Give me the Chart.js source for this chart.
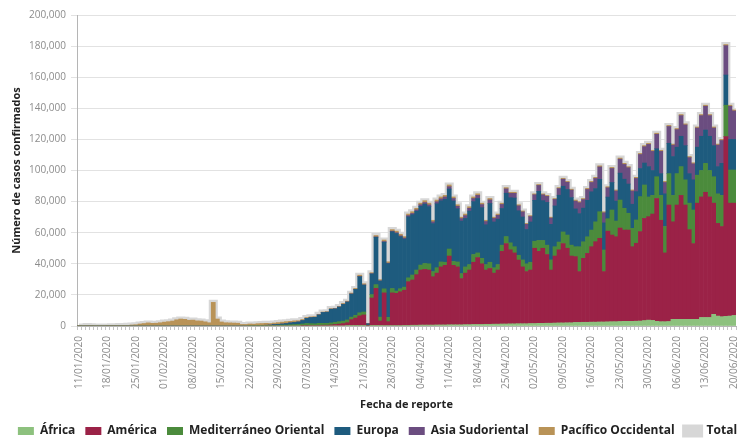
<!DOCTYPE html>
<html lang="es">
<head>
<meta charset="utf-8">
<title>Casos confirmados por región</title>
<script src="https://cdn.jsdelivr.net/npm/chart.js@4/dist/chart.umd.min.js"></script>
<style>
  html, body { margin: 0; padding: 0; background: #fff; }
  #chart-wrap { width: 752px; height: 438px; }
</style>
</head>
<body>
<div id="chart-wrap"><canvas id="cases-by-region" width="752" height="438"></canvas></div>
<script>
// daily confirmed cases by WHO region, 11/01/2020 .. 20/06/2020
const africa = [
  0, 0, 0, 0, 0, 0, 0, 0, 0, 0,
  0, 0, 0, 0, 0, 0, 0, 0, 0, 0,
  0, 0, 0, 0, 0, 0, 0, 0, 0, 0,
  0, 0, 0, 0, 0, 0, 0, 0, 0, 0,
  0, 0, 0, 0, 0, 0, 0, 0, 0, 0,
  0, 0, 0, 0, 0, 0, 0, 0, 0, 0,
  0, 0, 0, 0, 0, 0, 100, 100, 100, 100,
  100, 0, 200, 200, 200, 300, 300, 300, 300, 300,
  400, 400, 500, 500, 600, 600, 600, 600, 700, 700,
  700, 800, 800, 800, 800, 900, 900, 1000, 1000, 1000,
  1100, 1100, 1200, 1200, 1300, 1300, 1400, 1400, 1500, 1500,
  1500, 1600, 1600, 1700, 1700, 1800, 1800, 1900, 2000, 2000,
  2100, 2100, 2300, 2300, 2400, 2400, 2500, 2500, 2600, 2600,
  2700, 2800, 2800, 2900, 3000, 3000, 3000, 3100, 3200, 3500,
  3800, 3600, 3000, 2800, 2800, 2900, 4300, 4300, 4300, 4300,
  4300, 4300, 4300, 5500, 5500, 5500, 7500, 6400, 6000, 6200,
  6400, 6800
];
const america = [
  0, 0, 0, 0, 0, 0, 0, 0, 0, 0,
  0, 0, 0, 0, 0, 0, 0, 0, 0, 0,
  0, 0, 0, 0, 0, 0, 0, 0, 0, 0,
  0, 0, 0, 0, 0, 0, 0, 0, 0, 0,
  0, 0, 0, 0, 0, 0, 0, 0, 0, 0,
  0, 0, 0, 0, 0, 100, 200, 300, 300, 400,
  500, 500, 700, 1000, 1200, 1600, 2000, 4000, 5000, 6400,
  7000, 200, 17800, 24000, 3000, 21000, 2500, 21000, 20700, 21700,
  22600, 28100, 29100, 32500, 35400, 35800, 35400, 31100, 33300, 37300,
  38300, 44200, 38200, 37200, 29700, 33100, 35100, 40000, 43000, 39000,
  34900, 35900, 32800, 34800, 46700, 51700, 47600, 45600, 40900, 36500,
  33500, 34400, 48400, 46300, 48300, 44200, 34200, 43100, 47000, 51000,
  47900, 42900, 42300, 32700, 41100, 44300, 48500, 51700, 53800, 32400,
  58300, 55700, 54600, 60100, 58700, 58700, 48000, 50100, 57500, 65700,
  66500, 68400, 79000, 65200, 44200, 74900, 62700, 73500, 79700, 73500,
  57700, 48700, 74700, 77500, 80500, 77500, 71500, 59600, 58000, 115600,
  72600, 72200
];
const mediterranean = [
  0, 0, 0, 0, 0, 0, 0, 0, 0, 0,
  0, 0, 0, 0, 0, 0, 0, 0, 0, 0,
  0, 0, 0, 0, 0, 0, 0, 0, 0, 0,
  0, 0, 0, 0, 0, 0, 0, 0, 0, 0,
  0, 0, 100, 100, 100, 200, 200, 200, 400, 500,
  600, 600, 800, 900, 1000, 1200, 1400, 1200, 1100, 1300,
  1200, 1200, 1300, 1400, 1600, 1500, 1800, 1600, 1800, 2000,
  1900, 300, 2200, 2400, 2500, 2600, 2800, 2800, 1500, 2000,
  2000, 2500, 3200, 3000, 3200, 3800, 4000, 3300, 3500, 3200,
  2000, 4500, 2500, 3200, 3200, 4000, 3500, 5000, 3000, 3500,
  3500, 4000, 3500, 3500, 4000, 4500, 4500, 4000, 3100, 4500,
  5000, 5000, 4500, 7000, 5000, 6000, 6500, 6000, 5000, 7500,
  8500, 7000, 6400, 16000, 10700, 10700, 10700, 12800, 17100, 13900,
  8000, 16100, 10100, 18000, 14000, 10800, 11800, 15000, 22500, 21500,
  12700, 12000, 14000, 16000, 17000, 20200, 17000, 20200, 18500, 16200,
  17000, 21600, 18000, 17000, 18600, 17000, 17000, 19000, 20000, 20200,
  21300, 21300
];
const europe = [
  0, 0, 0, 0, 0, 0, 0, 0, 0, 0,
  0, 0, 0, 0, 0, 0, 0, 0, 0, 0,
  0, 0, 0, 0, 0, 0, 0, 0, 0, 0,
  0, 0, 0, 0, 0, 0, 0, 0, 0, 0,
  0, 0, 100, 100, 200, 200, 300, 400, 500, 600,
  700, 1000, 1200, 1400, 1600, 2200, 3300, 3900, 4200, 5400,
  7000, 7200, 8800, 8600, 9400, 10800, 11500, 14800, 16600, 23200,
  17300, 900, 13300, 30500, 23200, 30000, 34500, 36500, 37000, 33400,
  30900, 39200, 38800, 37800, 37800, 38200, 36800, 30900, 41100, 39300,
  40500, 38600, 38900, 34200, 33800, 31200, 34400, 34000, 35000, 32600,
  25600, 37800, 29400, 29200, 23600, 27900, 29000, 31300, 28600, 27600,
  22100, 25900, 26300, 31600, 25600, 27500, 22900, 26200, 30100, 29400,
  29300, 30600, 24300, 21300, 21600, 23400, 24600, 21400, 20800, 17400,
  13900, 17700, 12800, 17300, 18700, 18800, 15500, 18200, 18100, 14100,
  19500, 16000, 18000, 14000, 21000, 19500, 25000, 17000, 19500, 22000,
  19000, 19400, 18000, 22000, 21400, 22000, 20000, 17500, 20600, 19400,
  19700, 19700
];
const seAsia = [
  0, 0, 0, 0, 0, 0, 0, 0, 0, 0,
  0, 0, 0, 0, 0, 0, 0, 0, 0, 0,
  0, 0, 0, 0, 0, 0, 0, 0, 0, 0,
  0, 0, 0, 0, 0, 0, 0, 0, 0, 0,
  0, 0, 0, 0, 0, 0, 0, 0, 0, 0,
  0, 0, 0, 0, 0, 0, 0, 0, 0, 0,
  0, 0, 0, 0, 0, 100, 100, 100, 100, 100,
  100, 0, 100, 200, 100, 400, 300, 400, 500, 600,
  700, 800, 800, 900, 1000, 1000, 1100, 1100, 1300, 1300,
  1500, 1500, 1600, 1600, 1600, 1800, 1800, 2000, 2000, 2000,
  2100, 2300, 2300, 2500, 2600, 2800, 2800, 3000, 3200, 3300,
  3300, 3500, 3600, 3800, 3800, 3900, 4000, 4200, 4300, 4500,
  4600, 4800, 5000, 7000, 5500, 7000, 6000, 6500, 8000, 6500,
  6000, 9000, 6500, 9000, 9500, 10500, 8500, 8500, 9000, 10500,
  14300, 12300, 9300, 14300, 7300, 10800, 7300, 11300, 13300, 13300,
  10300, 10300, 12300, 13300, 15300, 13300, 11300, 13800, 14700, 18900,
  21300, 18300
];
const westPacific = [
  41, 0, 300, 200, 0, 0, 0, 50, 100, 150,
  300, 250, 450, 650, 800, 1300, 1600, 2000, 1700, 1800,
  2100, 2500, 2800, 3200, 4000, 4500, 4300, 3700, 3800, 3300,
  3200, 2700, 2100, 15200, 4500, 2600, 2100, 2000, 1900, 1800,
  1000, 1000, 1100, 1000, 1200, 1200, 1200, 1000, 1000, 1100,
  1200, 1200, 1000, 1000, 800, 700, 600, 500, 400, 400,
  300, 300, 400, 400, 400, 500, 500, 600, 600, 900,
  800, 300, 700, 900, 800, 1000, 900, 1000, 1000, 1000,
  900, 1000, 1100, 1000, 1000, 1200, 1100, 1000, 1100, 1200,
  1000, 1100, 1000, 1000, 900, 1000, 1000, 1000, 1000, 900,
  800, 900, 800, 800, 800, 800, 700, 700, 700, 600,
  600, 600, 600, 600, 600, 600, 600, 600, 600, 600,
  600, 600, 700, 700, 700, 700, 700, 700, 700, 700,
  700, 700, 700, 700, 700, 700, 700, 700, 700, 700,
  700, 700, 700, 700, 700, 700, 700, 700, 700, 700,
  700, 700, 700, 700, 700, 700, 700, 700, 700, 700,
  700, 700
];
const total = [
  41, 0, 300, 200, 0, 0, 0, 50, 100, 150,
  300, 250, 450, 650, 800, 1300, 1600, 2000, 1700, 1800,
  2100, 2500, 2800, 3200, 4000, 4500, 4300, 3700, 3800, 3300,
  3200, 2700, 2100, 15200, 4500, 2600, 2100, 2000, 1900, 1800,
  1000, 1000, 1300, 1200, 1500, 1600, 1700, 1600, 1900, 2200,
  2500, 2800, 3000, 3300, 3400, 4200, 5500, 5900, 6000, 7500,
  9000, 9200, 11200, 11400, 12600, 14500, 15900, 21100, 24100, 32600,
  27100, 1700, 34200, 58200, 29700, 55300, 41300, 62000, 61000, 59000,
  57500, 72000, 73500, 75700, 79000, 80600, 79000, 68000, 81000, 83000,
  84000, 90700, 83000, 78000, 70000, 72000, 76700, 83000, 85000, 79000,
  68000, 82000, 70000, 72000, 79000, 89000, 86000, 86000, 78000, 74000,
  66000, 71000, 85000, 91000, 85000, 84000, 70000, 82000, 89000, 95000,
  93000, 88000, 81000, 80000, 82000, 88500, 93000, 95600, 103000, 73500,
  89600, 102000, 87500, 108000, 104600, 102500, 87500, 95600, 111000, 116000,
  117500, 113000, 124000, 113000, 93000, 129000, 117000, 127000, 136000, 130000,
  109000, 105000, 128000, 136000, 142000, 136000, 128000, 117000, 120000, 181000,
  142000, 139000
];

// one category per reporting day, starting 11/01/2020
const reportDays = africa.map((_, i) => {
  const d = new Date(2020, 0, 11 + i);
  const dd = String(d.getDate()).padStart(2, '0');
  const mm = String(d.getMonth() + 1).padStart(2, '0');
  return `${dd}/${mm}/${d.getFullYear()}`;
});

const FONT = "'Open Sans', 'DejaVu Sans', sans-serif";

const regionBar = (label, data, color) => ({
  type: 'bar',
  label,
  data,
  stack: 'regions',
  backgroundColor: color,
  borderWidth: 0,
  barPercentage: 1,
  categoryPercentage: 1,
});

// push the legend down to the bottom edge (and a touch right) like the original
const legendToBottom = {
  id: 'legendToBottom',
  afterLayout(chart) {
    const legend = chart.legend;
    if (legend) {
      legend.top += 9;
      legend.bottom += 9;
      legend.left += 5;
      legend.right += 5;
    }
  },
};

const casesChart = new Chart(document.getElementById('cases-by-region'), {
  data: {
    labels: reportDays,
    datasets: [
      regionBar('África', africa, '#8dc17e'),
      regionBar('América', america, '#9b2247'),
      regionBar('Mediterráneo Oriental', mediterranean, '#4b8b3c'),
      regionBar('Europa', europe, '#1e5b7e'),
      regionBar('Asia Sudoriental', seAsia, '#6b4d80'),
      regionBar('Pacífico Occidental', westPacific, '#b99357'),
      {
        type: 'line',
        label: 'Total',
        data: total,
        stack: 'total',
        order: 1,
        borderColor: '#d7d7d7',
        backgroundColor: '#d7d7d7',
        borderWidth: 5,
        pointRadius: 0,
        stepped: 'middle',
        fill: false,
      },
    ],
  },
  options: {
    responsive: false,
    animation: false,
    layout: { padding: { top: 15, right: 7, left: 0, bottom: 0 } },
    scales: {
      x: {
        stacked: true,
        grid: { display: true, drawOnChartArea: false, tickLength: 4, color: '#c4c4c4' },
        border: { color: '#b5b5b5' },
        ticks: {
          autoSkip: false,
          minRotation: 90,
          maxRotation: 90,
          padding: 6,
          color: '#8c8c8c',
          font: { size: 10, family: FONT },
          callback: (value, index) => (index % 7 === 0 ? reportDays[index] : ''),
        },
        title: {
          display: true,
          text: 'Fecha de reporte',
          color: '#222',
          font: { size: 11, weight: 'bold', family: FONT },
          padding: { top: 0, bottom: -5 },
        },
        afterFit(scale) {
          scale.height = 80;
        },
      },
      y: {
        stacked: true,
        min: 0,
        max: 200000,
        grid: { color: '#e2e2e2', tickLength: 6 },
        border: { color: '#b5b5b5' },
        ticks: {
          stepSize: 20000,
          padding: 5,
          color: '#8c8c8c',
          font: { size: 10, family: FONT },
          callback: (value) => value.toLocaleString('en-US'),
        },
        title: {
          display: true,
          text: 'Número de casos confirmados',
          color: '#222',
          font: { size: 11, weight: 'bold', family: FONT },
          padding: { top: 10, bottom: 4 },
        },
        afterFit(scale) {
          scale.width = 77;
        },
      },
    },
    plugins: {
      legend: {
        position: 'bottom',
        labels: {
          boxWidth: 16,
          boxHeight: 8,
          padding: 10,
          color: '#222',
          font: { size: 12, weight: 'bold', family: FONT },
        },
      },
      tooltip: { mode: 'index', intersect: false },
    },
  },
  plugins: [legendToBottom],
});
</script>
</body>
</html>
